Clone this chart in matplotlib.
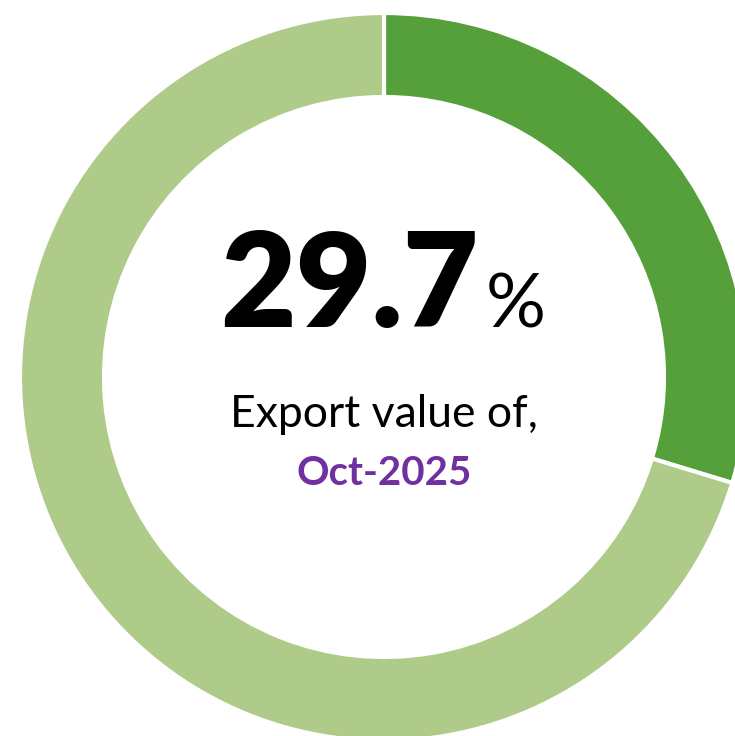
import matplotlib
matplotlib.use("Agg")
import matplotlib.pyplot as plt

labels = ["Oct-2025", "Other"]
shares = [29.7, 70.3]
colors = ["#55A03A", "#AFCB8A"]
big_value = "29.7"
subtitle = "Export value of,"
period = "Oct-2025"

fig = plt.figure(figsize=(7.35, 7.36), dpi=100)
ax = fig.add_axes([0, 0, 1, 1])
ax.pie(shares, colors=colors, startangle=90, counterclock=False, radius=364,
       wedgeprops=dict(width=84, edgecolor="white", linewidth=3))
ax.set_xlim(-384, 351)
ax.set_ylim(-359, 377)
ax.set_aspect("equal")
ax.axis("off")

fam = ["Lato", "DejaVu Sans"]
ax.text(95, 50, big_value, ha="right", va="baseline", fontsize=94,
        fontweight="heavy", family=fam, color="black")
ax.text(102, 50, "%", ha="left", va="baseline", fontsize=54,
        family=fam, color="black")
ax.text(0, -50, subtitle, ha="center", va="baseline", fontsize=32,
        family=fam, color="black")
ax.text(0, -108, period, ha="center", va="baseline", fontsize=29,
        fontweight="bold", family=fam, color="#7030A0")

fig.savefig("out.png", dpi=100)
